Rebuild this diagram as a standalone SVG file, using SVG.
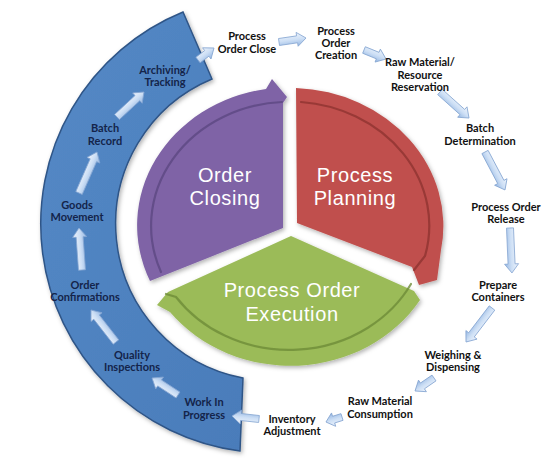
<svg xmlns="http://www.w3.org/2000/svg" width="546" height="466" viewBox="0 0 546 466">
<defs>
<filter id="sh" x="-10%" y="-10%" width="120%" height="120%">
<feDropShadow dx="1.5" dy="2" stdDeviation="2" flood-color="#000" flood-opacity="0.3"/>
</filter>
<linearGradient id="ag" x1="0" y1="0" x2="0" y2="1">
<stop offset="0" stop-color="#eef4fc"/>
<stop offset="0.5" stop-color="#cddff5"/>
<stop offset="1" stop-color="#94b6e2"/>
</linearGradient>
<linearGradient id="gb" x1="0" y1="0" x2="1" y2="1">
<stop offset="0" stop-color="#5489c6"/>
<stop offset="1" stop-color="#4a7cba"/>
</linearGradient>
</defs>
<style>
.arr{fill:url(#ag);stroke:#86a6d2;stroke-width:0.8}
.lo{font-family:Lato,"Liberation Sans",sans-serif;font-weight:bold;font-size:11px;fill:#111;text-anchor:middle}
.li{font-family:Lato,"Liberation Sans",sans-serif;font-weight:bold;font-size:11px;fill:#14244a;text-anchor:middle}
.big{font-family:"Liberation Sans",Arial,sans-serif;font-size:20px;letter-spacing:0.6px;fill:#fff;text-anchor:middle}
.dl{fill:none;stroke-width:2.2;stroke-linecap:round}
</style>

<g id="band">
<path d="M183,12 A229 229 0 0 0 240,451 L243,378 A157 157 0 0 1 212,79 Z" fill="url(#gb)" stroke="#2f5587" stroke-width="1.5" filter="url(#sh)"/>
</g>

<g id="order-closing">
<path d="M283,228 L150,281 A152 138 0 0 1 266,89 L272,79 L287,97 L283,103 Z" fill="#7f63a6" filter="url(#sh)"/>
<path class="dl" d="M161,272 A138 124 0 0 1 282,102" stroke="#5d4782" opacity="0.8"/>
<text class="big"><tspan x="225" y="182">Order</tspan><tspan x="225" y="205">Closing</tspan></text>
</g>

<g id="process-planning">
<path d="M296,88 A154 138 0 0 1 441,250 L437,280 L419,285 L412,267 L297,223 Z" fill="#c0504d" filter="url(#sh)"/>
<path class="dl" d="M301,102 A140 124 0 0 1 425,256 L414,270" stroke="#8e3331" opacity="0.8"/>
<text class="big"><tspan x="355" y="182">Process</tspan><tspan x="355" y="205">Planning</tspan></text>
</g>

<g id="process-order-execution">
<path d="M291,236 L414,291 L420,300 A152 138 0 0 1 170,312 L157,305 L168,292 Z" fill="#9bbb59" filter="url(#sh)"/>
<path class="dl" d="M411,284 A138 124 0 0 1 176,297 L166,294" stroke="#6e8c38" opacity="0.8"/>
<text class="big"><tspan x="292" y="297">Process Order</tspan><tspan x="292" y="321">Execution</tspan></text>
</g>

<g id="connectors">
<path class="arr" transform="translate(198,60) rotate(-36.9)" d="M0,-3.5 H11 V-7 L20,0 L11,7 V3.5 H0 Z"/>
<path class="arr" transform="translate(279,42) rotate(-8.4)" d="M0,-3.5 H18.3 V-7 L27.3,0 L18.3,7 V3.5 H0 Z"/>
<path class="arr" transform="translate(364,50) rotate(22.2)" d="M0,-3.5 H14.8 V-7 L23.8,0 L14.8,7 V3.5 H0 Z"/>
<path class="arr" transform="translate(440,92) rotate(41.9)" d="M0,-3.5 H30 V-7 L39,0 L30,7 V3.5 H0 Z"/>
<path class="arr" transform="translate(485,152) rotate(62.2)" d="M0,-3.5 H33.9 V-7 L42.9,0 L33.9,7 V3.5 H0 Z"/>
<path class="arr" transform="translate(510,228) rotate(87.5)" d="M0,-3.5 H36 V-7 L45,0 L36,7 V3.5 H0 Z"/>
<path class="arr" transform="translate(492,308) rotate(127.4)" d="M0,-3.5 H33.8 V-7 L42.8,0 L33.8,7 V3.5 H0 Z"/>
<path class="arr" transform="translate(434,378) rotate(145.6)" d="M0,-3.5 H14 V-7 L23,0 L14,7 V3.5 H0 Z"/>
<path class="arr" transform="translate(342,417) rotate(162.6)" d="M0,-3.5 H8.8 V-7 L16.8,0 L8.8,7 V3.5 H0 Z"/>
<path class="arr" transform="translate(259,419) rotate(186.3)" d="M0,-3.5 H18.2 V-7 L27.2,0 L18.2,7 V3.5 H0 Z"/>
<path class="arr" transform="translate(178,395) rotate(213.2)" d="M0,-3.5 H22 V-7 L31,0 L22,7 V3.5 H0 Z"/>
<path class="arr" transform="translate(116,342) rotate(232)" d="M0,-3.5 H31.6 V-7 L40.6,0 L31.6,7 V3.5 H0 Z"/>
<path class="arr" transform="translate(82,270) rotate(265.9)" d="M0,-3.5 H33.1 V-7 L42.1,0 L33.1,7 V3.5 H0 Z"/>
<path class="arr" transform="translate(79,193) rotate(-66.3)" d="M0,-3.5 H35.8 V-7 L44.8,0 L35.8,7 V3.5 H0 Z"/>
<path class="arr" transform="translate(117,117) rotate(-42.8)" d="M0,-3.5 H27.8 V-7 L36.8,0 L27.8,7 V3.5 H0 Z"/>
</g>

<g id="process-order-close"><text class="lo"><tspan x="247" y="40">Process</tspan><tspan x="247" y="53">Order Close</tspan></text></g>
<g id="process-order-creation"><text class="lo"><tspan x="336" y="35">Process</tspan><tspan x="336" y="47">Order</tspan><tspan x="336" y="59">Creation</tspan></text></g>
<g id="raw-material-reservation"><text class="lo"><tspan x="420" y="66">Raw Material/</tspan><tspan x="420" y="79">Resource</tspan><tspan x="420" y="91">Reservation</tspan></text></g>
<g id="batch-determination"><text class="lo"><tspan x="480" y="132">Batch</tspan><tspan x="480" y="145">Determination</tspan></text></g>
<g id="process-order-release"><text class="lo"><tspan x="506" y="211">Process Order</tspan><tspan x="506" y="223">Release</tspan></text></g>
<g id="prepare-containers"><text class="lo"><tspan x="498" y="289">Prepare</tspan><tspan x="498" y="301">Containers</tspan></text></g>
<g id="weighing-dispensing"><text class="lo"><tspan x="453" y="359">Weighing &amp;</tspan><tspan x="453" y="371">Dispensing</tspan></text></g>
<g id="raw-material-consumption"><text class="lo"><tspan x="380" y="405">Raw Material</tspan><tspan x="380" y="418">Consumption</tspan></text></g>
<g id="inventory-adjustment"><text class="lo"><tspan x="292" y="423">Inventory</tspan><tspan x="292" y="435">Adjustment</tspan></text></g>
<g id="work-in-progress"><text class="li"><tspan x="204" y="406">Work In</tspan><tspan x="204" y="419">Progress</tspan></text></g>
<g id="quality-inspections"><text class="li"><tspan x="132" y="359">Quality</tspan><tspan x="132" y="371">Inspections</tspan></text></g>
<g id="order-confirmations"><text class="li"><tspan x="85" y="289">Order</tspan><tspan x="85" y="301">Confirmations</tspan></text></g>
<g id="goods-movement"><text class="li"><tspan x="77" y="209">Goods</tspan><tspan x="77" y="221">Movement</tspan></text></g>
<g id="batch-record"><text class="li"><tspan x="105" y="132">Batch</tspan><tspan x="105" y="145">Record</tspan></text></g>
<g id="archiving-tracking"><text class="li"><tspan x="165" y="74">Archiving/</tspan><tspan x="165" y="86">Tracking</tspan></text></g>
</svg>
